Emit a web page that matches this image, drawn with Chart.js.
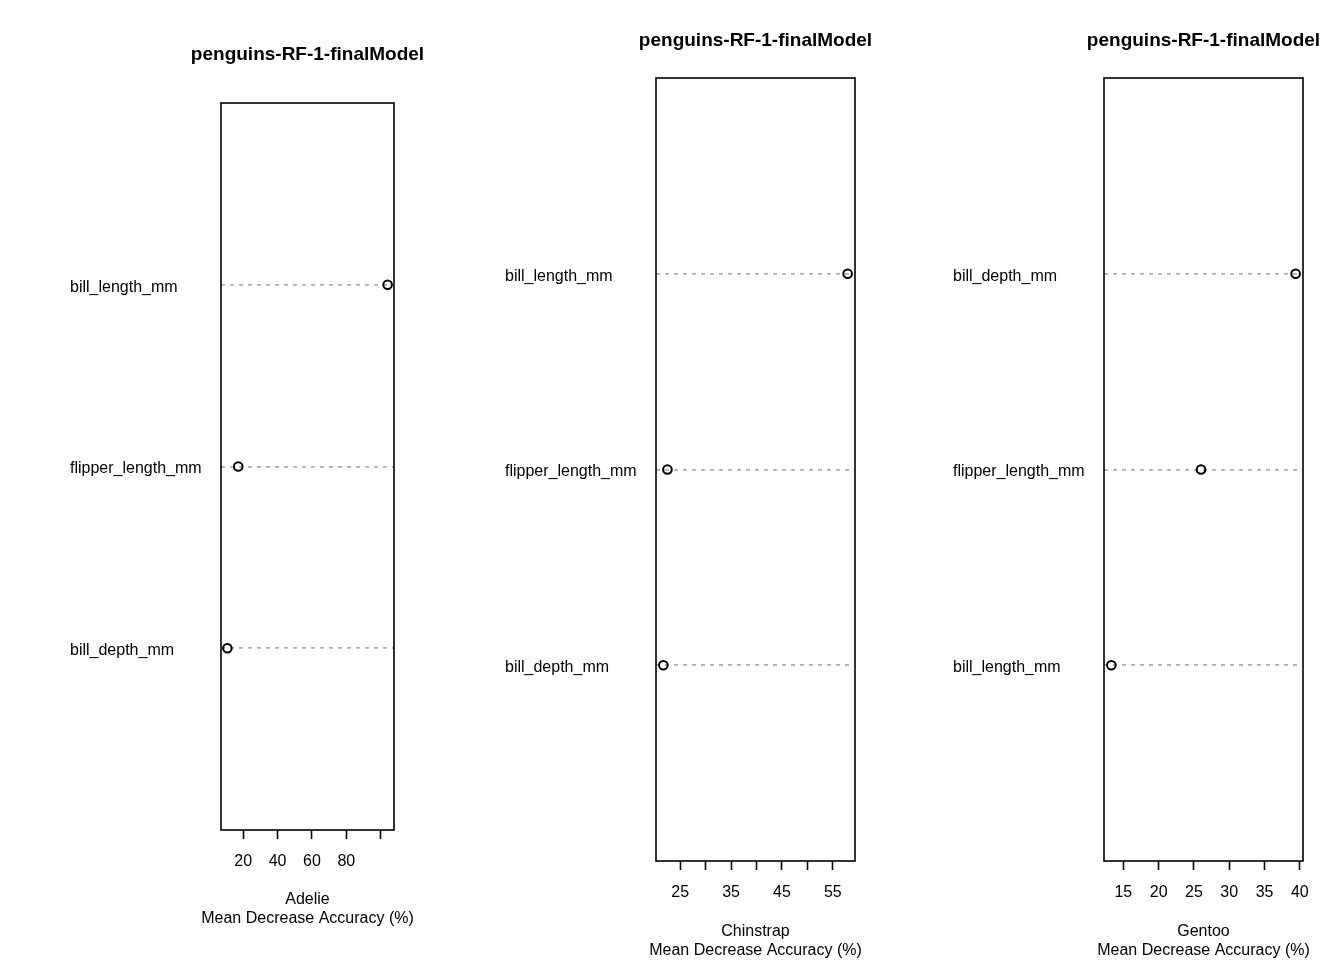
<!DOCTYPE html>
<html><head><meta charset="utf-8">
<script src="https://cdn.jsdelivr.net/npm/chart.js@4"></script>
<style>
html,body{margin:0;padding:0;background:#fff;overflow:hidden;width:1344px;height:960px;}
.p{position:absolute;top:0;width:448px;height:964px;}
</style></head><body>
<div class="p" style="left:0"><canvas id="c1"></canvas></div>
<div class="p" style="left:448px"><canvas id="c2"></canvas></div>
<div class="p" style="left:896px"><canvas id="c3"></canvas></div>
<script>
// ---- data ----
const chartTitle = "penguins-RF-1-finalModel";
const xAxisTitle = "Mean Decrease Accuracy (%)";
const classNames = ["Adelie", "Chinstrap", "Gentoo"];

// features listed top to bottom
const adelieFeatures = ["bill_length_mm", "flipper_length_mm", "bill_depth_mm"];
const adelieValues = [104.0, 17.1, 10.8];
const chinstrapFeatures = ["bill_length_mm", "flipper_length_mm", "bill_depth_mm"];
const chinstrapValues = [57.9, 22.5, 21.7];
const gentooFeatures = ["bill_depth_mm", "flipper_length_mm", "bill_length_mm"];
const gentooValues = [39.4, 26.0, 13.3];

const adelieTicks = [20, 40, 60, 80, 100];
const adelieTickLabels = ["20", "40", "60", "80", ""];
const chinstrapTicks = [25, 30, 35, 40, 45, 50, 55];
const chinstrapTickLabels = ["25", "", "35", "", "45", "", "55"];
const gentooTicks = [15, 20, 25, 30, 35, 40];
const gentooTickLabels = ["15", "20", "25", "30", "35", "40"];

// ---- layout (positions only) ----
const layouts = [
  {padLeft: 70, padRight: 54, yWidth: 151, titleTop: 43.6, titleBottom: 36.6, xHeight: 48, subTop: 12.4, padBottom: 35.6},
  {padLeft: 57, padRight: 41, yWidth: 151, titleTop: 29.6, titleBottom: 25.6, xHeight: 48, subTop: 13.4, padBottom: 3.6},
  {padLeft: 57, padRight: 41, yWidth: 151, titleTop: 29.6, titleBottom: 25.6, xHeight: 48, subTop: 13.4, padBottom: 3.6}
];

const FONT = "'Liberation Sans', Arial, Helvetica, sans-serif";

const boxPlugin = {
  id: 'box',
  afterLayout(chart) {
    // let title texts overflow the narrow plot box, centred on it
    const a = chart.chartArea;
    const cx = (a.left + a.right) / 2;
    chart.boxes.forEach(b => {
      if (!b.axis && b.options && b.options.text !== undefined && b.options.labels === undefined) {
        b.left = cx - 220; b.right = cx + 220; b.width = 440;
      }
    });
  },
  afterDraw(chart) {
    const a = chart.chartArea, ctx = chart.ctx;
    ctx.save();
    ctx.strokeStyle = '#000';
    ctx.lineWidth = 1.6;
    ctx.strokeRect(a.left, a.top, a.right - a.left, a.bottom - a.top);
    ctx.restore();
  }
};

function makePanel(id, cls, features, values, ticks, tickLabels, L) {
  const n = features.length;
  const pts = values.map((v, i) => ({x: v, y: n - i}));
  const lo = Math.min(...values), hi = Math.max(...values);
  const ext = (hi - lo) * 0.04;
  new Chart(document.getElementById(id), {
    type: 'scatter',
    data: {datasets: [{
      data: pts,
      pointStyle: 'circle',
      pointRadius: 4.3,
      pointBorderWidth: 2,
      pointBorderColor: '#000',
      pointBackgroundColor: 'rgba(0,0,0,0)',
      showLine: false
    }]},
    options: {
      responsive: true,
      maintainAspectRatio: false,
      animation: false,
      layout: {padding: {left: L.padLeft, right: L.padRight, top: 0, bottom: L.padBottom}},
      plugins: {
        legend: {display: false},
        tooltip: {enabled: false},
        title: {
          display: true, text: chartTitle, fullSize: false, color: '#000',
          font: {family: FONT, size: 19, weight: 'bold', lineHeight: 1.2},
          padding: {top: L.titleTop, bottom: L.titleBottom}
        },
        subtitle: {
          display: true, position: 'bottom', text: [cls, xAxisTitle], fullSize: false, color: '#000',
          font: {family: FONT, size: 16, weight: 'normal', lineHeight: 1.1875},
          padding: {top: L.subTop, bottom: 0}
        }
      },
      scales: {
        x: {
          type: 'linear', min: lo - ext, max: hi + ext,
          afterBuildTicks: s => { s.ticks = ticks.map(v => ({value: v})); },
          afterFit: s => { s.height = L.xHeight; },
          ticks: {
            autoSkip: false, maxRotation: 0, color: '#000', padding: 13,
            font: {family: FONT, size: 16, lineHeight: 1.2},
            callback: v => { const k = ticks.indexOf(v); return k >= 0 ? tickLabels[k] : ''; }
          },
          grid: {drawOnChartArea: false, drawTicks: true, tickLength: 9, tickColor: '#000', tickWidth: 1.6, color: '#000'},
          border: {display: false}
        },
        y: {
          type: 'linear', min: 0, max: n + 1,
          afterBuildTicks: s => { s.ticks = features.map((f, i) => ({value: n - i})); },
          afterFit: s => { s.width = L.yWidth; },
          ticks: {
            autoSkip: false, crossAlign: 'far', padding: 0, color: '#000', labelOffset: 2.5,
            font: {family: FONT, size: 16},
            callback: v => features[n - v]
          },
          grid: {drawTicks: false, color: '#b0b0b0', lineWidth: 1.8},
          border: {display: false, dash: [4, 5]}
        }
      }
    },
    plugins: [boxPlugin]
  });
}

makePanel('c1', classNames[0], adelieFeatures, adelieValues, adelieTicks, adelieTickLabels, layouts[0]);
makePanel('c2', classNames[1], chinstrapFeatures, chinstrapValues, chinstrapTicks, chinstrapTickLabels, layouts[1]);
makePanel('c3', classNames[2], gentooFeatures, gentooValues, gentooTicks, gentooTickLabels, layouts[2]);
</script>
</body></html>
